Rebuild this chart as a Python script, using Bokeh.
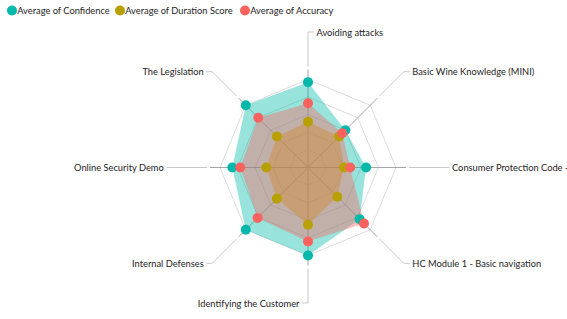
import numpy as np
from bokeh.plotting import figure
from bokeh.models import Range1d
from bokeh.core.properties import value
from bokeh.embed import file_html
from bokeh.resources import INLINE

# ---------------- data ----------------
categories = [
    "Avoiding attacks",
    "Basic Wine Knowledge (MINI)",
    "Consumer Protection Code -",
    "HC Module 1 - Basic navigation",
    "Identifying the Customer",
    "Internal Defenses",
    "Online Security Demo",
    "The Legislation",
]
confidence = [97, 60, 66, 83, 100, 100, 86, 100]
duration_score = [52, 50, 41, 47, 65, 50, 47.5, 50]
accuracy = [73, 55, 48, 90, 84, 81, 77, 80]
series_names = ["Average of Confidence", "Average of Duration Score", "Average of Accuracy"]
series_values = [confidence, duration_score, accuracy]
series_colors = ["#01B8AA", "#B8A000", "#FD625E"]
grid_levels = 5

# ---------------- layout ----------------
W, H = 567, 319
CX, CY = 307.5, 167.0
R = 88.0          # outer ring radius (px)
AXIS_R = 98.0
LEAD_R0, LEAD_R1, TAIL, GAP = 101.0, 135.5, 6.0, 2.5
FONT = value("Lato")
FONT_SIZE = "9.3px"
TEXT_COLOR = "#252423"
LEGEND_X = [11.5, 119.5, 244.5]   # legend marker centres (px from left)
LEGEND_Y = 10.0                   # legend row centre (px from top)
LEGEND_STANDOFF = 5.2

p = figure(width=W, height=H, x_range=Range1d(-CX, W - CX), y_range=Range1d(CY - H, CY),
           output_backend="svg", toolbar_location=None, x_axis_type=None, y_axis_type=None,
           min_border=0, outline_line_color=None, background_fill_color="white")

n = len(categories)
ang = np.pi / 2 - np.arange(n) * 2 * np.pi / n
cs = np.round(np.cos(ang), 12)
sn = np.round(np.sin(ang), 12)
vmax = max(max(v) for v in series_values)
scale = R / vmax

# grid rings
for k in range(1, grid_levels + 1):
    r = R * k / grid_levels
    p.line(list(r * cs) + [r * cs[0]], list(r * sn) + [r * sn[0]],
           line_color="#dcdcdc", line_width=1)

# axes
p.multi_line([[0, AXIS_R * c] for c in cs], [[0, AXIS_R * s] for s in sn],
             line_color="#a6a6a6", line_width=1)

# areas
for vals, col in zip(series_values, series_colors):
    v = np.array(vals, dtype=float) * scale
    p.patch(list(v * cs), list(v * sn), fill_color=col, fill_alpha=0.4, line_color=None)

# points
for vals, col in zip(series_values, series_colors):
    v = np.array(vals, dtype=float) * scale
    p.scatter(list(v * cs), list(v * sn), size=10, fill_color=col, line_color=col, line_width=0)

# leader lines + labels
lx, ly, tx, ty, al = [], [], [], [], []
for c, s in zip(cs, sn):
    d = np.sign(c) if abs(c) > 1e-9 else (1.0 if s > 0 else -1.0)
    x1, y1 = LEAD_R1 * c, LEAD_R1 * s
    lx.append([LEAD_R0 * c, x1, x1 + TAIL * d])
    ly.append([LEAD_R0 * s, y1, y1])
    tx.append(x1 + (TAIL + GAP) * d)
    ty.append(y1)
    al.append("left" if d > 0 else "right")
p.multi_line(lx, ly, line_color="#c8c8c8", line_width=1)
p.text(x=tx, y=ty, text=categories, text_align=al, text_baseline="middle",
       text_font=FONT, text_font_size=FONT_SIZE, text_color=TEXT_COLOR)

# legend (top-left row)
lgx = [x - CX for x in LEGEND_X]
lgy = [CY - LEGEND_Y] * len(series_names)
p.scatter(lgx, lgy, size=10, fill_color=series_colors, line_color=series_colors, line_width=0)
p.text(x=[x + LEGEND_STANDOFF for x in lgx], y=lgy, text=series_names, text_align="left",
       text_baseline="middle", text_font=FONT, text_font_size=FONT_SIZE, text_color=TEXT_COLOR)

open("out.html", "w").write(file_html(p, INLINE))
